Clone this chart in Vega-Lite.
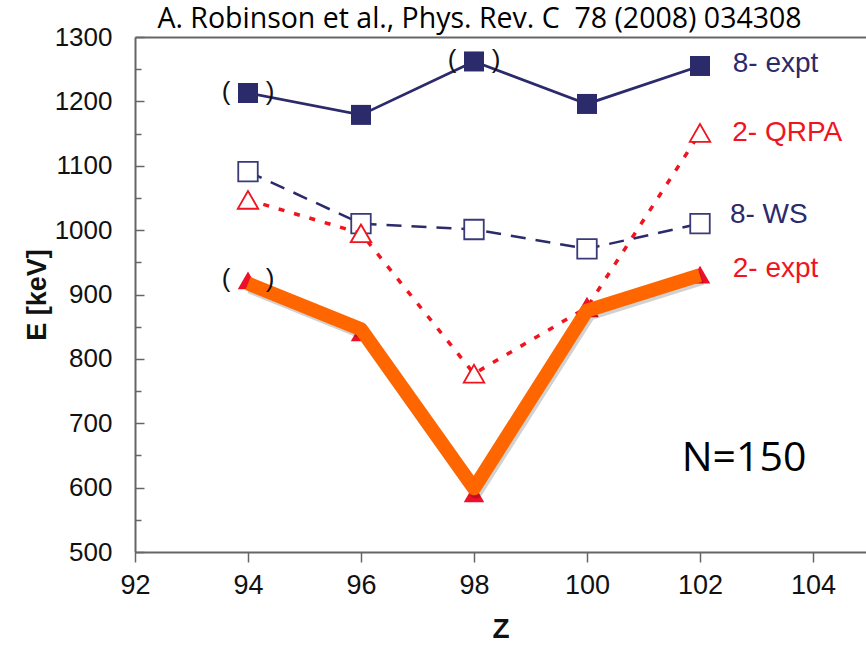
{
  "$schema": "https://vega.github.io/schema/vega-lite/v6.json",
  "width": 731,
  "height": 515,
  "autosize": "none",
  "padding": {"left": 135, "top": 37, "right": 0, "bottom": 97},
  "background": "white",
  "title": {
    "text": "A. Robinson et al., Phys. Rev. C\u00a0 78 (2008) 034308",
    "font": "Open Sans",
    "fontSize": 28.5,
    "fontWeight": "normal",
    "color": "#000000",
    "anchor": "middle",
    "dx": -21,
    "offset": -9
  },
  "config": {
    "view": {"stroke": null},
    "font": "Liberation Sans"
  },
  "datasets": {
    "levels": [
      {"series": "8- expt", "Z": 94, "E": 1213},
      {"series": "8- expt", "Z": 96, "E": 1179},
      {"series": "8- expt", "Z": 98, "E": 1262},
      {"series": "8- expt", "Z": 100, "E": 1196},
      {"series": "8- expt", "Z": 102, "E": 1255},
      {"series": "8- WS", "Z": 94, "E": 1091},
      {"series": "8- WS", "Z": 96, "E": 1010},
      {"series": "8- WS", "Z": 98, "E": 1001},
      {"series": "8- WS", "Z": 100, "E": 971},
      {"series": "8- WS", "Z": 102, "E": 1010},
      {"series": "2- QRPA", "Z": 94, "E": 1047},
      {"series": "2- QRPA", "Z": 96, "E": 995},
      {"series": "2- QRPA", "Z": 98, "E": 777},
      {"series": "2- QRPA", "Z": 100, "E": 880},
      {"series": "2- QRPA", "Z": 102, "E": 1151},
      {"series": "2- expt", "Z": 94, "E": 922},
      {"series": "2- expt", "Z": 96, "E": 841},
      {"series": "2- expt", "Z": 98, "E": 591},
      {"series": "2- expt", "Z": 100, "E": 880},
      {"series": "2- expt", "Z": 102, "E": 931},
      {"series": "trend", "Z": 94, "E": 917},
      {"series": "trend", "Z": 96, "E": 846},
      {"series": "trend", "Z": 98, "E": 599},
      {"series": "trend", "Z": 100, "E": 875},
      {"series": "trend", "Z": 102, "E": 930}
    ],
    "tentative": [
      {"series": "8- expt", "Z": 94, "E": 1213},
      {"series": "8- expt", "Z": 98, "E": 1262},
      {"series": "2- expt", "Z": 94, "E": 922}
    ],
    "tags": [
      {"tag": "8- expt", "group": "navy", "Z": 102.58, "E": 1258},
      {"tag": "2- QRPA", "group": "red", "Z": 102.57, "E": 1151},
      {"tag": "8- WS", "group": "navy", "Z": 102.53, "E": 1024},
      {"tag": "2- expt", "group": "red", "Z": 102.58, "E": 939}
    ],
    "notes": [
      {"note": "N=150", "Z": 102.78, "E": 626}
    ]
  },
  "layer": [
    {
      "encoding": {
        "x": {
          "field": "Z",
          "type": "quantitative",
          "scale": {"domain": [92, 104.938], "nice": false, "zero": false},
          "axis": {
            "title": "Z",
            "values": [92, 94, 96, 98, 100, 102, 104],
            "format": "d",
            "grid": false,
            "domainColor": "#666666",
            "domainWidth": 2,
            "tickColor": "#666666",
            "tickWidth": 1.5,
            "tickSize": 10,
            "labelFont": "Liberation Sans",
            "labelFontSize": 27,
            "labelColor": "#111111",
            "labelPadding": 10,
            "labelFlush": false,
            "titleFont": "Liberation Sans",
            "titleFontSize": 28,
            "titleFontWeight": "bold",
            "titleColor": "#111111",
            "titlePadding": 17
          }
        },
        "y": {
          "field": "E",
          "type": "quantitative",
          "scale": {"domain": [500, 1300], "nice": false, "zero": false},
          "axis": {
            "title": "E [keV]",
            "values": [500, 600, 700, 800, 900, 1000, 1100, 1200, 1300],
            "format": "d",
            "grid": false,
            "domainColor": "#666666",
            "domainWidth": 2,
            "tickColor": "#666666",
            "tickWidth": 1.5,
            "tickSize": -9,
            "labelFont": "Liberation Sans",
            "labelFontSize": 26,
            "labelColor": "#111111",
            "labelPadding": 32,
            "labelFlush": false,
            "titleFont": "Liberation Sans",
            "titleFontSize": 27,
            "titleFontWeight": "bold",
            "titleColor": "#111111",
            "titlePadding": 3
          }
        }
      },
      "layer": [
        {
          "data": {"name": "levels"},
          "transform": [{"filter": "datum.series === '8- WS'"}],
          "mark": {"type": "line", "color": "#2b2a6b", "strokeWidth": 2.5, "strokeDash": [15, 10]}
        },
        {
          "data": {"name": "levels"},
          "transform": [{"filter": "datum.series === '8- WS'"}],
          "mark": {"type": "point", "shape": "square", "size": 380, "filled": true, "fill": "white", "stroke": "#3a3a78", "strokeWidth": 1.8, "opacity": 1}
        },
        {
          "data": {"name": "levels"},
          "transform": [{"filter": "datum.series === '2- QRPA'"}],
          "mark": {"type": "line", "color": "#f0141e", "strokeWidth": 3.5, "strokeDash": [6, 10]}
        },
        {
          "data": {"name": "levels"},
          "transform": [{"filter": "datum.series === '2- QRPA'"}],
          "mark": {"type": "point", "shape": "triangle-up", "size": 420, "filled": true, "fill": "white", "stroke": "#f0141e", "strokeWidth": 1.8, "opacity": 1}
        },
        {
          "data": {"name": "levels"},
          "transform": [{"filter": "datum.series === '8- expt'"}],
          "mark": {"type": "line", "color": "#2b2a6b", "strokeWidth": 2.8}
        },
        {
          "data": {"name": "levels"},
          "transform": [{"filter": "datum.series === '8- expt'"}],
          "mark": {"type": "point", "shape": "square", "size": 400, "filled": true, "color": "#2b2a6b", "opacity": 1}
        },
        {
          "data": {"name": "levels"},
          "transform": [{"filter": "datum.series === '2- expt'"}],
          "mark": {"type": "point", "shape": "triangle-up", "size": 420, "filled": true, "color": "#ec1028", "opacity": 1}
        },
        {
          "data": {"name": "levels"},
          "transform": [{"filter": "datum.series === 'trend'"}],
          "mark": {"type": "line", "color": "#000000", "opacity": 0.18, "strokeWidth": 14, "strokeJoin": "round", "xOffset": 2, "yOffset": 3}
        },
        {
          "data": {"name": "levels"},
          "transform": [{"filter": "datum.series === 'trend'"}],
          "mark": {"type": "line", "color": "#ff6600", "strokeWidth": 14, "strokeJoin": "round"}
        },
        {
          "data": {"name": "tentative"},
          "mark": {"type": "text", "text": "(", "font": "Liberation Sans", "fontSize": 26, "color": "#111111", "dx": -22, "dy": -1}
        },
        {
          "data": {"name": "tentative"},
          "mark": {"type": "text", "text": ")", "font": "Liberation Sans", "fontSize": 26, "color": "#111111", "dx": 22, "dy": -1}
        },
        {
          "data": {"name": "tags"},
          "mark": {"type": "text", "align": "left", "baseline": "middle", "font": "Liberation Sans", "fontSize": 28},
          "encoding": {
            "text": {"field": "tag"},
            "color": {
              "field": "group",
              "type": "nominal",
              "scale": {"domain": ["navy", "red"], "range": ["#2b2a6b", "#f0141e"]},
              "legend": null
            }
          }
        },
        {
          "data": {"name": "notes"},
          "mark": {"type": "text", "align": "center", "baseline": "alphabetic", "font": "Open Sans", "fontSize": 41, "color": "#000000"},
          "encoding": {"text": {"field": "note"}}
        }
      ]
    },
    {
      "data": {"name": "levels"},
      "mark": {"type": "point", "opacity": 0},
      "encoding": {
        "x": {
          "field": "Z",
          "type": "quantitative",
          "axis": {
            "orient": "top",
            "title": null,
            "labels": false,
            "ticks": false,
            "grid": false,
            "domain": true,
            "domainColor": "#666666",
            "domainWidth": 2
          }
        },
        "y": {
          "field": "E",
          "type": "quantitative",
          "axis": {
            "orient": "left",
            "title": null,
            "values": [550, 650, 750, 850, 950, 1050, 1150, 1250],
            "labels": false,
            "domain": false,
            "grid": false,
            "tickColor": "#666666",
            "tickWidth": 1.5,
            "tickSize": -6
          }
        }
      }
    }
  ],
  "resolve": {"axis": {"x": "independent", "y": "independent"}}
}
